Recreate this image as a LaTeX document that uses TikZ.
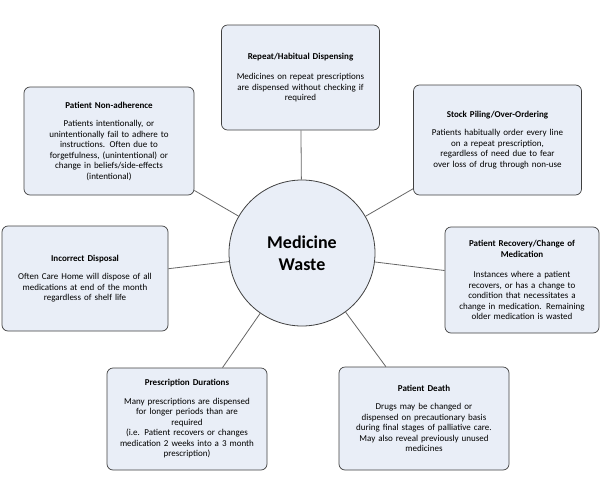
\documentclass[tikz,border=0pt]{standalone}
\usepackage{fontspec}
\setmainfont{Carlito}
\begin{document}
\begin{tikzpicture}[x=1pt,y=-1pt,
 box/.style={draw=black!75,fill=boxfill,rounded corners=6pt,line width=0.7pt,align=center,font=\fontsize{9}{10.5}\selectfont,inner sep=3pt},
 link/.style={draw=black!60,line width=0.8pt}]
\definecolor{boxfill}{HTML}{E9EEF7}
\useasboundingbox (0,0) rectangle (602,479);
\node[circle,draw=black!75,fill=boxfill,line width=0.8pt,minimum size=146pt,align=center,font=\fontsize{18}{22}\selectfont\bfseries] (c) at (302,253) {Medicine\\Waste};
\node[box,minimum width=157pt,minimum height=105pt,text width=152pt] (b1) at (300.5,77.5) {\textbf{Repeat/Habitual Dispensing}\\[10pt]Medicines on repeat prescriptions\\are dispensed without checking if\\required\\[20pt]};
\node[box,minimum width=170pt,minimum height=108pt,text width=164pt] (b2) at (109,141) {\textbf{Patient Non-adherence}\\[8pt]Patients intentionally, or\\unintentionally fail to adhere to\\instructions. Often due to\\forgetfulness, (unintentional) or\\change in beliefs/side-effects\\(intentional)};
\node[box,minimum width=167pt,minimum height=110pt,text width=162pt] (b3) at (497.5,140) {\textbf{Stock Piling/Over-Ordering}\\[8pt]Patients habitually order every line\\on a repeat prescription,\\regardless of need due to fear\\over loss of drug through non-use\\[16pt]};
\node[box,minimum width=164pt,minimum height=105pt,text width=160pt] (b4) at (85,278.5) {\textbf{Incorrect Disposal}\\[8pt]Often Care Home will dispose of all\\medications at end of the month\\regardless of shelf life\\[28pt]};
\node[box,minimum width=152pt,minimum height=106pt,text width=148pt] (b5) at (522,280) {\textbf{Patient Recovery/Change of}\\\textbf{Medication}\\[10pt]Instances where a patient\\recovers, or has a change to\\condition that necessitates a\\change in medication. Remaining\\older medication is wasted};
\node[box,minimum width=158pt,minimum height=102pt,text width=154pt] (b6) at (187,419) {\textbf{Prescription Durations}\\[8pt]Many prescriptions are dispensed\\for longer periods than are\\required\\(i.e. Patient recovers or changes\\medication 2 weeks into a 3 month\\prescription)};
\node[box,minimum width=168pt,minimum height=103pt,text width=164pt] (b7) at (424,418.5) {\textbf{Patient Death}\\[8pt]Drugs may be changed or\\dispensed on precautionary basis\\during final stages of palliative care.\\May also reveal previously unused\\medicines};
\foreach \b in {b1,b2,b3,b4,b5,b6,b7} \draw[link] (c) -- (\b);
\end{tikzpicture}
\end{document}
